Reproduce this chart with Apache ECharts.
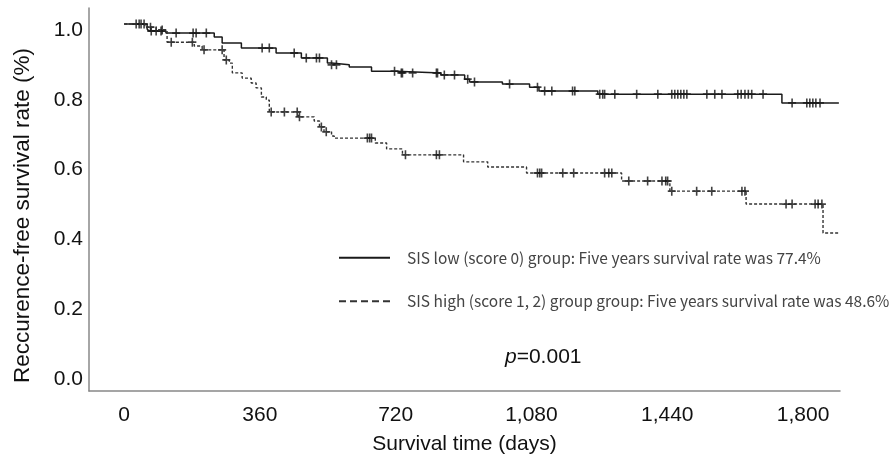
<!DOCTYPE html>
<html>
<head>
<meta charset="utf-8">
<title>SIS survival</title>
<script src="https://cdn.jsdelivr.net/npm/echarts@6/dist/echarts.min.js"></script>
<style>
  html, body { margin: 0; padding: 0; background: #fff; }
  #main { width: 891px; height: 467px; }
</style>
</head>
<body>
<div id="main"></div>
<script type="text/javascript">
    // 軸の目盛り
    var xTicks = [0, 360, 720, 1080, 1440, 1800];
    var yTicks = [0, 0.2, 0.4, 0.6, 0.8, 1.0];

    var lowName = 'SIS low (score 0) group: Five years survival rate was 77.4%';
    var highName = 'SIS high (score 1, 2) group group: Five years survival rate was 48.6%';

    // SIS low: 生存率が変わる日と新しい生存率
    var lowDays = [0, 61, 66, 111, 239, 260, 311, 403, 470, 539, 550, 597, 656, 722, 840, 903, 916, 1003, 1075, 1100, 1256, 1744, 1895];
    var lowSurv = [1.0, 0.986, 0.980, 0.974, 0.963, 0.946, 0.931, 0.917, 0.903, 0.888, 0.883, 0.877, 0.865, 0.860, 0.854, 0.842, 0.834, 0.828, 0.819, 0.808, 0.799, 0.774, 0.774];
    // 打ち切り
    var lowCensor = [32, 40, 53, 72, 85, 98, 138, 183, 191, 218, 366, 385, 451, 483, 510, 518, 550, 563, 717, 735, 738, 765, 828, 831, 849, 876, 911, 929, 1022, 1096, 1115, 1134, 1189, 1195, 1261, 1269, 1274, 1301, 1359, 1415, 1452, 1460, 1468, 1476, 1484, 1492, 1545, 1566, 1585, 1627, 1636, 1646, 1655, 1664, 1694, 1771, 1810, 1818, 1826, 1834, 1845];

    // SIS high
    var highDays = [0, 55, 85, 114, 186, 207, 265, 279, 287, 313, 337, 350, 364, 377, 385, 462, 504, 518, 530, 550, 557, 666, 696, 738, 900, 964, 1067, 1319, 1447, 1649, 1853, 1898];
    var highSurv = [1.0, 0.991, 0.983, 0.948, 0.937, 0.926, 0.897, 0.888, 0.860, 0.845, 0.831, 0.817, 0.791, 0.782, 0.748, 0.734, 0.722, 0.705, 0.691, 0.679, 0.673, 0.659, 0.642, 0.625, 0.605, 0.590, 0.573, 0.550, 0.521, 0.484, 0.401, 0.401];
    var highCensor = [45, 70, 101, 125, 181, 212, 260, 271, 390, 425, 459, 465, 523, 536, 645, 651, 656, 746, 828, 836, 1096, 1102, 1107, 1163, 1192, 1274, 1285, 1293, 1338, 1388, 1426, 1436, 1441, 1452, 1518, 1558, 1638, 1646, 1755, 1771, 1832, 1840, 1850];

    function pairs(days, surv) {
      return days.map(function (d, i) { return [d, surv[i]]; });
    }
    // 打ち切り時点の生存率（階段関数から）
    function censorPoints(days, surv, cens) {
      return cens.map(function (t) {
        var s = surv[0];
        for (var i = 0; i < days.length; i++) {
          if (days[i] <= t) s = surv[i];
        }
        return [t, s];
      });
    }

    var plus = 'path://M3.2,0h1.6v8h-1.6z M0,3.2h8v1.6h-8z';
    var font = 'Liberation Sans, Arial, sans-serif';

    var chart = echarts.init(document.getElementById('main'));

    var option = {
      animation: false,
      backgroundColor: '#fff',
      grid: { left: 89, right: 51, top: 8, bottom: 76 },
      legend: {
        orient: 'vertical',
        left: 333,
        top: 245,
        itemWidth: 51,
        itemHeight: 12,
        itemGap: 28,
        itemStyle: { opacity: 0 },
        data: [
          { name: lowName },
          { name: highName, lineStyle: { type: [7, 4] } }
        ],
        textStyle: { fontFamily: 'Noto Sans CJK JP', fontSize: 15.5, color: '#444', padding: [0, 0, 0, 12] }
      },
      xAxis: {
        type: 'value',
        min: -93,
        max: 1898,
        name: 'Survival time (days)',
        nameLocation: 'middle',
        nameGap: 43,
        nameTextStyle: { fontFamily: font, fontSize: 21, color: '#111' },
        axisLine: { onZero: false, lineStyle: { color: '#888', width: 1.5 } },
        axisTick: { show: false },
        splitLine: { show: false },
        axisLabel: {
          customValues: xTicks,
          margin: 14,
          fontFamily: font,
          fontSize: 21,
          color: '#111',
          formatter: function (v) { return v.toLocaleString('en-US'); }
        }
      },
      yAxis: {
        type: 'value',
        min: -0.052,
        max: 1.046,
        name: 'Reccurence-free survival rate (%)',
        nameLocation: 'middle',
        nameGap: 55,
        nameTextStyle: { fontFamily: font, fontSize: 22.5, color: '#111', padding: [0, 32, 0, 0] },
        axisLine: { onZero: false, lineStyle: { color: '#888', width: 1.5 } },
        axisTick: { show: false },
        splitLine: { show: false },
        axisLabel: {
          customValues: yTicks,
          margin: 6,
          formatter: function (v) { return '{a|' + v.toFixed(1) + '}'; },
          rich: { a: { fontFamily: font, fontSize: 21, color: '#111', padding: [12, 0, 0, 0] } }
        }
      },
      graphic: [{
        type: 'text',
        left: 505,
        top: 347,
        style: {
          text: '{i|p}=0.001',
          fontFamily: font,
          fontSize: 21,
          fill: '#111',
          rich: { i: { fontStyle: 'italic', fontFamily: font, fontSize: 21 } }
        }
      }],
      series: [
        {
          name: lowName,
          type: 'line',
          step: 'end',
          symbol: 'none',
          data: pairs(lowDays, lowSurv),
          lineStyle: { color: '#1a1a1a', width: 1.5 },
          itemStyle: { color: '#1a1a1a' }
        },
        {
          name: highName,
          type: 'line',
          step: 'end',
          symbol: 'none',
          data: pairs(highDays, highSurv),
          lineStyle: { color: '#333', width: 1.4, type: [3, 2] },
          itemStyle: { color: '#333' }
        },
        {
          type: 'scatter',
          symbol: plus,
          symbolSize: [8, 9],
          data: censorPoints(lowDays, lowSurv, lowCensor),
          itemStyle: { color: '#111' }
        },
        {
          type: 'scatter',
          symbol: plus,
          symbolSize: [8, 9],
          data: censorPoints(highDays, highSurv, highCensor),
          itemStyle: { color: '#111' }
        }
      ]
    };

    chart.setOption(option);
</script>
</body>
</html>
